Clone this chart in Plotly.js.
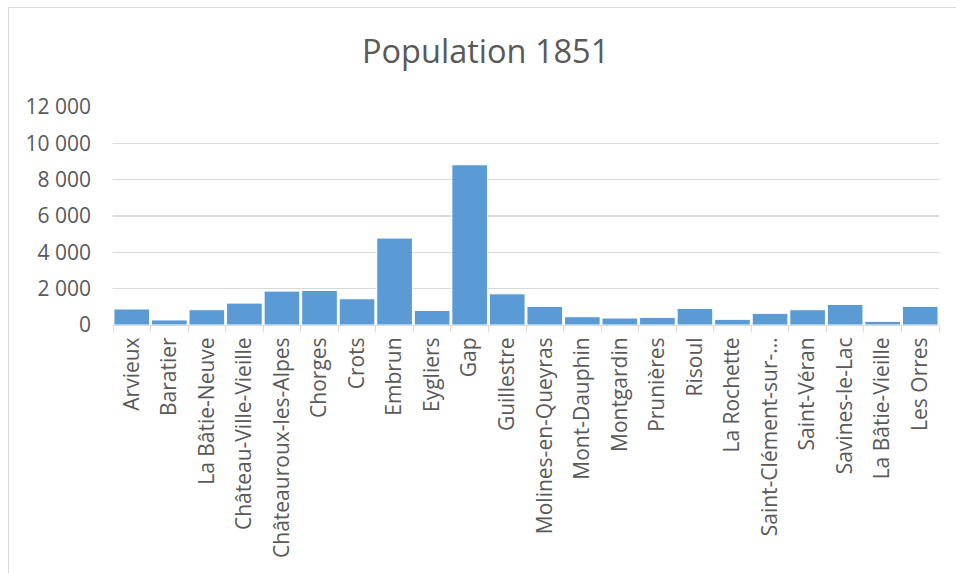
<!DOCTYPE html>
<html>
<head>
<meta charset="utf-8">
<script src="https://cdn.plot.ly/plotly-3.0.1.min.js"></script>
<style>
html,body{margin:0;padding:0;background:#fff;overflow:hidden;}
#frame{position:absolute;left:8px;top:7px;width:1200px;height:1200px;border:1px solid #d9d9d9;box-sizing:border-box;}
#chart{position:absolute;left:0;top:0;width:956px;height:573px;}
</style>
</head>
<body>
<div id="frame"></div>
<div id="chart"></div>
<script>
const communes = ["Arvieux","Baratier","La Bâtie-Neuve","Château-Ville-Vieille","Châteauroux-les-Alpes","Chorges","Crots","Embrun","Eygliers","Gap","Guillestre","Molines-en-Queyras","Mont-Dauphin","Montgardin","Prunières","Risoul","La Rochette","Saint-Clément-sur-…","Saint-Véran","Savines-le-Lac","La Bâtie-Vieille","Les Orres"];
const population1851 = [880,280,840,1205,1865,1900,1445,4785,805,8820,1715,1025,455,385,420,915,310,640,840,1135,200,1025];
const yTicks = [0,2000,4000,6000,8000,10000,12000];

const trace = {
  type: "bar",
  x: communes,
  y: population1851,
  marker: {color: "#5b9bd5", line: {color: "#ffffff", width: 1}},
  hoverinfo: "x+y"
};

const layout = {
  width: 956, height: 573,
  margin: {l: 113, r: 17, t: 107, b: 248},
  paper_bgcolor: "rgba(0,0,0,0)",
  plot_bgcolor: "rgba(0,0,0,0)",
  separators: ", ",
  showlegend: false,
  bargap: 0.05,
  title: {text: "Population 1851", x: 0.508, xanchor: "center", y: 0.91, yanchor: "middle",
          font: {family: "Open Sans", size: 32.5, color: "#595959"}},
  font: {family: "Open Sans", color: "#595959"},
  xaxis: {
    type: "category",
    tickangle: -90,
    tickfont: {family: "Open Sans", size: 21, color: "#595959"},
    ticks: "outside", tickson: "boundaries", ticklen: 6, tickcolor: "#d9d9d9",
    ticklabelstandoff: 3,
    showline: true, linecolor: "#d9d9d9", linewidth: 1,
    showgrid: false, zeroline: false
  },
  yaxis: {
    range: [0, 12000],
    tickvals: yTicks,
    ticktext: yTicks.map(v => v === 0 ? "0" : (Math.floor(v/1000) + " " + String(v%1000).padStart(3,"0"))),
    tickfont: {family: "Open Sans", size: 21, color: "#595959"},
    showgrid: true, gridcolor: "#d9d9d9", gridwidth: 1.2,
    zeroline: false, showline: false, ticks: "",
    ticklabelstandoff: 21
  }
};

Plotly.newPlot("chart", [trace], layout, {displayModeBar: false, staticPlot: true});
</script>
</body>
</html>
